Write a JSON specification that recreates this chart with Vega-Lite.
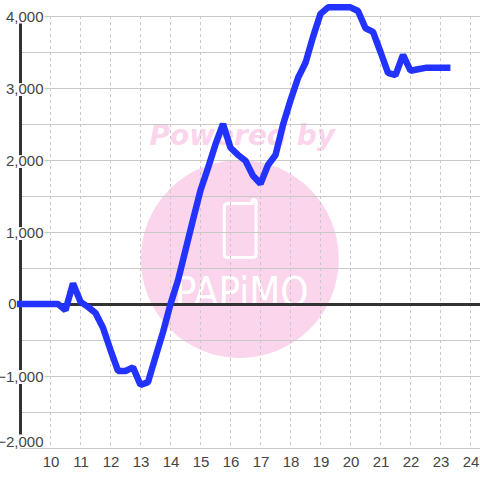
{
"$schema":"https://vega.github.io/schema/vega-lite/v6.json",
"width":460,"height":432,"autosize":"none",
"padding":{"left":20,"top":16,"right":0,"bottom":32},
"background":"white",
"config":{"view":{"stroke":null},"font":"Liberation Sans"},
"resolve":{"axis":{"x":"independent","y":"independent"}},
"datasets":{
"series":[
{"h":8.88,"v":0},{"h":10,"v":0},{"h":10.25,"v":0},{"h":10.5,"v":-85},{"h":10.75,"v":285},{"h":11,"v":30},{"h":11.25,"v":-40},{"h":11.5,"v":-125},{"h":11.75,"v":-330},{"h":12,"v":-640},{"h":12.25,"v":-930},{"h":12.5,"v":-930},{"h":12.75,"v":-880},{"h":13,"v":-1125},{"h":13.25,"v":-1085},{"h":13.5,"v":-735},{"h":13.75,"v":-390},{"h":14,"v":0},{"h":14.25,"v":330},{"h":14.5,"v":750},{"h":14.75,"v":1170},{"h":15,"v":1580},{"h":15.25,"v":1890},{"h":15.5,"v":2220},{"h":15.75,"v":2500},{"h":16,"v":2170},{"h":16.25,"v":2070},{"h":16.5,"v":1990},{"h":16.75,"v":1780},{"h":17,"v":1670},{"h":17.25,"v":1930},{"h":17.5,"v":2070},{"h":17.75,"v":2490},{"h":18,"v":2830},{"h":18.25,"v":3140},{"h":18.5,"v":3350},{"h":18.75,"v":3710},{"h":19,"v":4030},{"h":19.25,"v":4120},{"h":19.5,"v":4120},{"h":19.75,"v":4120},{"h":20,"v":4120},{"h":20.25,"v":4070},{"h":20.5,"v":3830},{"h":20.75,"v":3780},{"h":21,"v":3500},{"h":21.25,"v":3210},{"h":21.5,"v":3180},{"h":21.75,"v":3460},{"h":22,"v":3240},{"h":22.25,"v":3260},{"h":22.5,"v":3280},{"h":22.75,"v":3280},{"h":23,"v":3280},{"h":23.25,"v":3280},{"h":23.33,"v":3280}
],
"hgrid":[{"v":-2000},{"v":-1500},{"v":-1000},{"v":-500},{"v":500},{"v":1000},{"v":1500},{"v":2000},{"v":2500},{"v":3000},{"v":3500},{"v":4000}],
"vgrid":[{"h":10},{"h":11},{"h":12},{"h":13},{"h":14},{"h":15},{"h":16},{"h":17},{"h":18},{"h":19},{"h":20},{"h":21},{"h":22},{"h":23},{"h":24}],
"labelgaps":[{"lo":3896,"hi":4000},{"lo":2889,"hi":3069},{"lo":1889,"hi":2069},{"lo":889,"hi":1069},{"lo":-1111,"hi":-917},{"lo":-2000,"hi":-1812}]
},
"layer":[
{"data":{"values":[{"h":16.31,"v":625}]},
 "mark":{"type":"point","shape":"circle","filled":true,"size":39204,"color":"#fbd5ec","opacity":1},
 "encoding":{
  "x":{"field":"h","type":"quantitative","scale":{"domain":[8.983,24.3163],"nice":false,"zero":false},
   "axis":{"values":[10,11,12,13,14,15,16,17,18,19,20,21,22,23,24],"title":null,"grid":false,"domain":false,"ticks":false,"labelFontSize":15,"labelColor":"#444444","labelPadding":6,"labelFont":"Liberation Sans","labelFlush":false,"labelOverlap":false,"zindex":1}},
  "y":{"field":"v","type":"quantitative","scale":{"domain":[-2000,4000],"nice":false,"zero":false},
   "axis":{"values":[-2000,-1000,1000,2000,3000,4000],"format":",.0f","title":null,"grid":false,"domain":false,"ticks":false,"labelFontSize":15,"labelColor":"#444444","labelPadding":-23,"labelFont":"Liberation Sans","labelFlush":false,"labelOverlap":false,"zindex":1,
    "labelOffset":{"expr":"datum.value==-2000?-7:0"}}}
 }},
{"data":{"values":[{"h":16.39,"v":2208,"t":"Powered by"}]},
 "mark":{"type":"text","font":"DejaVu Sans","fontWeight":"bold","fontStyle":"italic","fontSize":28,"color":"#fbd5ec","align":"center","baseline":"alphabetic"},
 "encoding":{"x":{"field":"h","type":"quantitative","axis":null},"y":{"field":"v","type":"quantitative","axis":null},"text":{"field":"t"}}},
{"data":{"values":[{"h":16.32,"v":1040}]},
 "mark":{"type":"point","filled":false,"opacity":1,"color":"white","strokeWidth":3,"size":3600,"shape":"M -0.4 -0.85 L 0.4 -0.85 L 0.4 -0.95 Q 0.47 -1.02 0.53 -0.95 L 0.53 0.85 Q 0.53 0.95 0.4 0.95 L -0.4 0.95 Q -0.53 0.95 -0.53 0.85 L -0.53 -0.75 Q -0.53 -0.85 -0.4 -0.85 Z"},
 "encoding":{"x":{"field":"h","type":"quantitative","axis":null},"y":{"field":"v","type":"quantitative","axis":null}}},
{"data":{"values":[{"h":16.37,"v":-28,"t":"PAPiMO"}]},
 "mark":{"type":"text","font":"DejaVu Sans Condensed","fontSize":40,"color":"white","align":"center","baseline":"alphabetic"},
 "encoding":{"x":{"field":"h","type":"quantitative","axis":null},"y":{"field":"v","type":"quantitative","axis":null},"text":{"field":"t"}}},
{"data":{"name":"hgrid"},
 "mark":{"type":"rule","color":"#c8c8c8","strokeWidth":1,"yOffset":0.5},
 "encoding":{"y":{"field":"v","type":"quantitative","axis":null}}},
{"data":{"name":"vgrid"},
 "mark":{"type":"rule","color":"#c8c8c8","strokeWidth":1,"strokeDash":[3,3]},
 "encoding":{"x":{"field":"h","type":"quantitative","axis":null}}},
{"data":{"values":[{"v":0}]},
 "mark":{"type":"rule","color":"#333333","strokeWidth":3,"yOffset":0.5},
 "encoding":{"y":{"field":"v","type":"quantitative","axis":null}}},
{"data":{"values":[{"h":9}]},
 "mark":{"type":"rule","color":"#333333","strokeWidth":3},
 "encoding":{"x":{"field":"h","type":"quantitative","axis":null}}},
{"data":{"name":"labelgaps"},
 "mark":{"type":"rect","color":"white"},
 "encoding":{"x":{"datum":8.93,"axis":null},"x2":{"datum":9.8},"y":{"field":"lo","type":"quantitative","axis":null},"y2":{"field":"hi"}}},
{"data":{"values":[{"h":8.87,"v":0,"t":"0"}]},
 "mark":{"type":"text","fontSize":15,"font":"Liberation Sans","color":"#444444","align":"right","baseline":"middle"},
 "encoding":{"x":{"field":"h","type":"quantitative","axis":null},"y":{"field":"v","type":"quantitative","axis":null},"text":{"field":"t"}}},
{"data":{"name":"series"},
 "mark":{"type":"line","color":"#2233ff","strokeWidth":6.5,"strokeJoin":"bevel","clip":false},
 "encoding":{"x":{"field":"h","type":"quantitative","axis":null},"y":{"field":"v","type":"quantitative","axis":null}}}
]
}
